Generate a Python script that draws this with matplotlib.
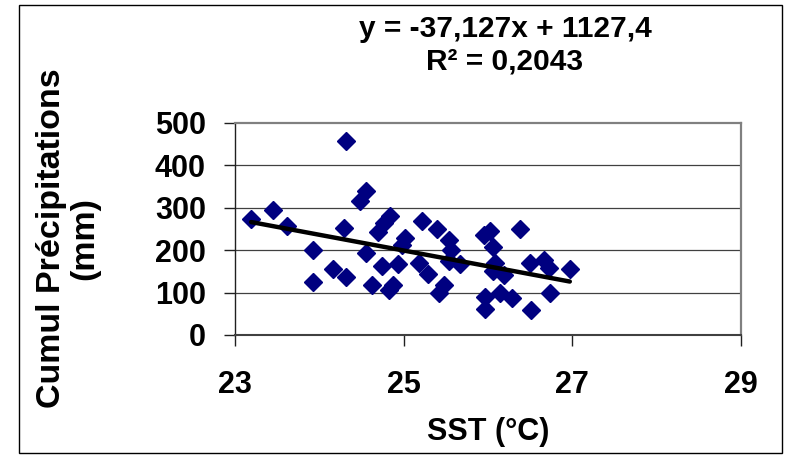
import matplotlib
matplotlib.use("Agg")
import matplotlib.pyplot as plt
from matplotlib.patches import Rectangle
import numpy as np

# Data
sst = [23.19, 23.45, 23.62, 23.93, 23.93, 24.16, 24.32, 24.32, 24.29, 24.55,
       24.48, 24.84, 24.77, 24.69, 24.55, 24.62, 24.74, 24.87, 24.83, 24.93,
       25.02, 24.98, 25.22, 25.39, 25.18, 25.29, 25.54, 25.56, 25.54, 25.67,
       25.48, 25.42, 25.95, 26.02, 26.06, 26.38, 26.08, 26.06, 26.19, 26.50,
       26.66, 26.72, 26.97, 26.74, 25.96, 26.14, 26.29, 25.96, 26.51]
precip = [274, 295, 256, 200, 125, 156, 137, 457, 252, 339,
          317, 280, 264, 244, 193, 119, 162, 119, 105, 167,
          229, 213, 268, 250, 170, 145, 225, 200, 175, 167,
          119, 99, 235, 245, 208, 250, 170, 150, 142, 170,
          178, 158, 156, 100, 90, 99, 87, 61, 60]

slope = -37.127
intercept = 1127.4
equation_text = "y = -37,127x + 1127,4"
r2_text = "R² = 0,2043"

x_ticks = [23, 25, 27, 29]
y_ticks = [0, 100, 200, 300, 400, 500]
x_label = "SST (°C)"
y_label = "Cumul Précipitations\n(mm)"

plt.rcParams['font.family'] = ['Liberation Sans', 'DejaVu Sans']
plt.rcParams['font.weight'] = 'bold'

W, H = 788, 459
fig = plt.figure(figsize=(W / 100, H / 100), dpi=100)
fig.patch.set_facecolor('white')

# outer border
fig.patches.append(Rectangle((19 / W, 1 - 453 / H), (782 - 19) / W, (453 - 5) / H,
                             transform=fig.transFigure, fill=False,
                             edgecolor='black', linewidth=1.0, zorder=0))

ax = fig.add_axes([235 / W, 1 - 335 / H, (741 - 235) / W, (335 - 123) / H])
ax.set_xlim(23, 29)
ax.set_ylim(0, 500)
ax.set_xticks(x_ticks)
ax.set_yticks(y_ticks)

for v in y_ticks[1:-1]:
    ax.axhline(v, color='#404040', linewidth=0.9, zorder=1)

ax.plot(sst, precip, linestyle='none', marker='D', markersize=9.2,
        markerfacecolor='#000080', markeredgecolor='#000080', zorder=3)

xs = np.array([min(sst), max(sst)])
ax.plot(xs, slope * xs + intercept, color='black', linewidth=3.2,
        solid_capstyle='round', zorder=4)

for side in ['top', 'right']:
    ax.spines[side].set_color('#808080')
    ax.spines[side].set_linewidth(1.6)
ax.spines['left'].set_color('#202020')
ax.spines['left'].set_linewidth(1.0)
ax.spines['bottom'].set_color('#404040')
ax.spines['bottom'].set_linewidth(1.5)

ax.tick_params(axis='both', direction='out', length=8, width=1.0, colors='#202020',
               labelsize=22, labelcolor='black')
ax.tick_params(axis='y', pad=13)
ax.tick_params(axis='x', pad=17)
for lab in ax.get_xticklabels() + ax.get_yticklabels():
    lab.set_fontweight('bold')

fig.text(488 / W, 1 - 432 / H, x_label, ha='center', va='center',
         fontsize=22, fontweight='bold')
fig.text(68 / W, 1 - 238 / H, y_label, ha='center', va='center', rotation=90,
         fontsize=24.5, fontweight='bold', linespacing=1.1, multialignment='center')

fig.text(505 / W, 1 - 29 / H, equation_text, ha='center', va='center',
         fontsize=21.5, fontweight='bold')
fig.text(505 / W, 1 - 62 / H, r2_text, ha='center', va='center',
         fontsize=21.5, fontweight='bold')

fig.savefig('out.png', dpi=100, facecolor='white')
